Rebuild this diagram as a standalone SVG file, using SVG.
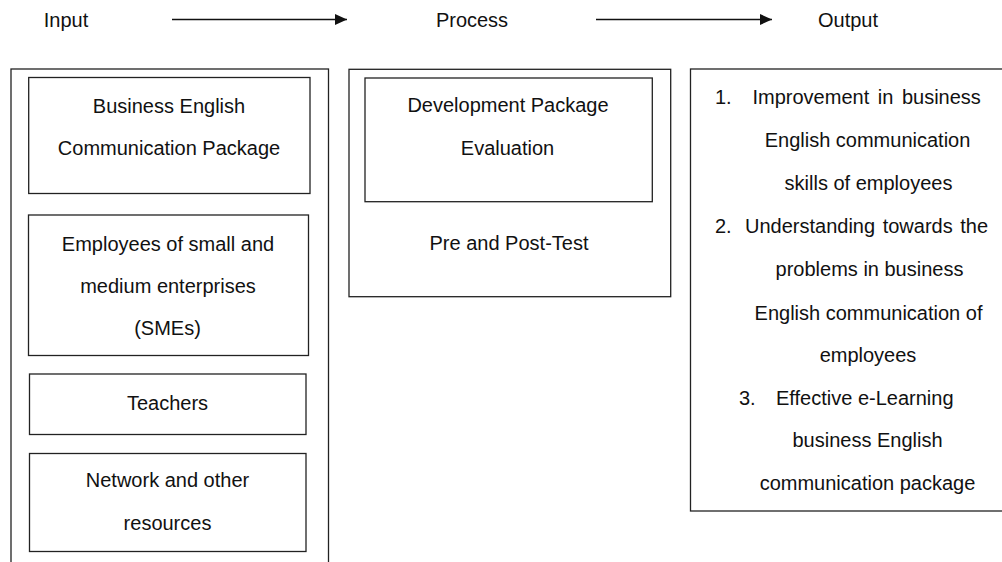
<svg xmlns="http://www.w3.org/2000/svg" width="1002" height="562" viewBox="0 0 1002 562">
  <style>
    text { font-family: "Liberation Sans", Arial, sans-serif; font-size: 20px; fill: #111; }
    .c { text-anchor: middle; }
    .box { fill: none; stroke: #222; stroke-width: 1.3; }
    .conn { stroke: #111; stroke-width: 1.4; fill: none; }
  </style>
  <defs>
    <marker id="arrow" markerUnits="userSpaceOnUse" markerWidth="13" markerHeight="12" refX="12" refY="6" orient="auto">
      <path d="M0,0.5 L12,6 L0,11.5 Z" fill="#111"/>
    </marker>
  </defs>
  <rect width="1002" height="562" fill="#fff"/>

  <g id="label-input"><text class="c" x="66" y="26.5">Input</text></g>
  <g id="label-process"><text class="c" x="472" y="26.5">Process</text></g>
  <g id="label-output"><text class="c" x="848" y="26.5">Output</text></g>

  <g id="connectors">
    <line class="conn" x1="172" y1="19.5" x2="347" y2="19.5" marker-end="url(#arrow)"/>
    <line class="conn" x1="596" y1="19.5" x2="772" y2="19.5" marker-end="url(#arrow)"/>
  </g>

  <g id="input-group">
    <rect class="box" x="11" y="69" width="317.5" height="510"/>
    <g id="node-package">
      <rect class="box" x="28.7" y="77.5" width="281.3" height="116"/>
      <text class="c" x="169" y="113">Business English</text>
      <text class="c" x="169" y="154.5">Communication Package</text>
    </g>
    <g id="node-employees">
      <rect class="box" x="28.5" y="215" width="280" height="140.5"/>
      <text class="c" x="168" y="250.5">Employees of small and</text>
      <text class="c" x="168" y="292.5">medium enterprises</text>
      <text class="c" x="167.5" y="334.5">(SMEs)</text>
    </g>
    <g id="node-teachers">
      <rect class="box" x="29.5" y="374" width="276.5" height="60.5"/>
      <text class="c" x="167.5" y="410">Teachers</text>
    </g>
    <g id="node-network">
      <rect class="box" x="29.5" y="453.5" width="276.5" height="98"/>
      <text class="c" x="167.5" y="487">Network and other</text>
      <text class="c" x="167.5" y="530">resources</text>
    </g>
  </g>

  <g id="process-group">
    <rect class="box" x="349" y="69.3" width="321.7" height="227.4"/>
    <g id="node-development">
      <rect class="box" x="365" y="78" width="287.3" height="123.7"/>
      <text class="c" x="508" y="112">Development Package</text>
      <text class="c" x="507.5" y="155">Evaluation</text>
    </g>
    <g id="node-test">
      <text class="c" x="509" y="250">Pre and Post-Test</text>
    </g>
  </g>

  <g id="output-group">
    <rect class="box" x="690.5" y="69" width="330" height="442"/>
    <g id="node-output-1">
      <text x="715" y="104">1.</text>
      <text x="752.5" y="104" word-spacing="3">Improvement in business</text>
      <text class="c" x="867.5" y="147">English communication</text>
      <text class="c" x="868.5" y="190">skills of employees</text>
    </g>
    <g id="node-output-2">
      <text x="715" y="233">2.</text>
      <text x="745" y="233" word-spacing="2">Understanding towards the</text>
      <text class="c" x="869.5" y="276">problems in business</text>
      <text class="c" x="868.5" y="320">English communication of</text>
      <text class="c" x="868" y="362">employees</text>
    </g>
    <g id="node-output-3">
      <text x="739" y="405">3.</text>
      <text x="776" y="405">Effective e-Learning</text>
      <text class="c" x="867.5" y="447">business English</text>
      <text class="c" x="867.5" y="490">communication package</text>
    </g>
  </g>
</svg>
